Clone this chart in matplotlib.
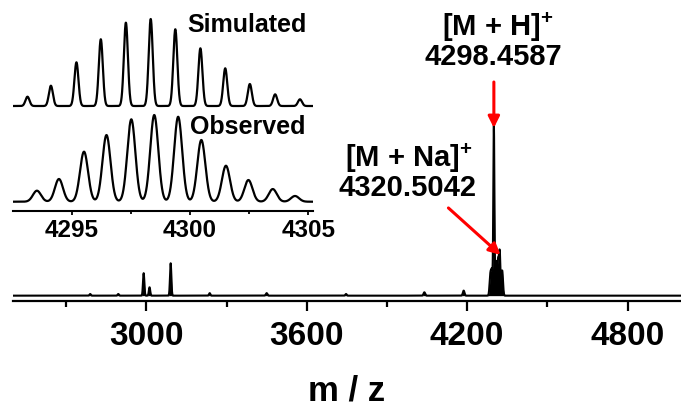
import numpy as np
import matplotlib
matplotlib.use('Agg')
import matplotlib.pyplot as plt

plt.rcParams['font.family'] = ['Liberation Sans', 'DejaVu Sans']
plt.rcParams['font.weight'] = 'bold'
plt.rcParams['mathtext.fontset'] = 'custom'
plt.rcParams['mathtext.rm'] = 'Liberation Sans:bold'
plt.rcParams['mathtext.bf'] = 'Liberation Sans:bold'

# main MALDI spectrum: peak positions (m/z), relative heights (%), widths (m/z)
peak_mz = [2790, 2895, 2990, 3012, 3091, 3237, 3450, 3747, 4040, 4187,
           4287, 4293, 4300, 4308, 4316, 4322, 4331]
peak_int = [1.0, 1.0, 13.4, 5.0, 19.3, 1.5, 1.5, 1.0, 2.0, 3.0,
            12.0, 14.0, 100.0, 20.0, 21.0, 24.0, 15.0]
peak_w = [2.5, 2.5, 2.5, 2.5, 2.5, 2.5, 3.0, 2.5, 3.0, 3.0,
          3.0, 3.0, 2.0, 3.0, 3.0, 2.5, 3.0]

# isotope pattern inset (m/z, % of base peak)
sim_mz = [4293.13, 4294.12, 4295.20, 4296.23, 4297.29, 4298.34,
          4299.38, 4300.44, 4301.49, 4302.53, 4303.60, 4304.65]
sim_int = [10.7, 23.3, 50.2, 76.7, 95.8, 100.0, 88.2, 66.3, 43.3, 25.3, 13.4, 7.7]
obs_mz = [4293.53, 4294.46, 4295.52, 4296.47, 4297.52, 4298.49,
          4299.50, 4300.48, 4301.52, 4302.47, 4303.50, 4304.44]
obs_int = [12.7, 26.2, 57.7, 76.9, 95.0, 100.0, 98.0, 71.2, 41.5, 25.0, 14.6, 6.6]

major_ticks = [3000, 3600, 4200, 4800]
minor_ticks = [2700, 3300, 3900, 4500]


def profile(x, centers, heights, widths):
    y = np.zeros_like(x)
    for c, h, w in zip(centers, heights, widths):
        y += h * np.exp(-0.5 * ((x - c) / w) ** 2)
    return y


fig = plt.figure(figsize=(6.81, 4.09), dpi=100)
ax = fig.add_axes([0.0186, 0.264, 0.9814, 0.736])

mz = np.arange(2500, 5000, 0.25)
inten = profile(mz, peak_mz, peak_int, peak_w)
ax.plot(mz, inten, color='black', lw=1.5)
ax.fill_between(mz, 0, inten, color='black', lw=0)

ax.set_xlim(2500, 5000)
ax.set_ylim(-3.2, 176.3)
for s in ['left', 'right', 'top']:
    ax.spines[s].set_visible(False)
ax.spines['bottom'].set_linewidth(1.6)
ax.set_yticks([])
ax.set_xticks(major_ticks)
ax.set_xticks(minor_ticks, minor=True)
ax.tick_params(axis='x', which='major', length=7.5, width=1.6, labelsize=24, pad=7)
ax.tick_params(axis='x', which='minor', length=4, width=1.6)
ax.set_xlabel('m / z', fontsize=25, fontweight='bold', labelpad=16)

ax.text(4313, 160, r'[M + H]$^{+}$', fontsize=21, ha='center', va='center')
ax.text(4298, 142.3, '4298.4587', fontsize=21, ha='center', va='center')
ax.text(3980, 82, r'[M + Na]$^{+}$', fontsize=21, ha='center', va='center')
ax.text(3976, 64.2, '4320.5042', fontsize=21, ha='center', va='center')

arrow = dict(arrowstyle='-|>', color='red', lw=2.2, mutation_scale=17,
             shrinkA=0, shrinkB=0)
ax.annotate('', xy=(4300, 100), xytext=(4300, 127.4), arrowprops=arrow)
ax.annotate('', xy=(4325, 24.3), xytext=(4130, 52.3), arrowprops=arrow)

# inset: simulated vs observed isotope distribution
ins = fig.add_axes([0.0195, 0.4841, 0.4401, 0.5159])
ins.patch.set_alpha(0)
xi = np.arange(4292.5, 4305.25, 0.005)
obs_y = profile(xi, obs_mz, [v * 0.867 for v in obs_int], [0.17] * len(obs_mz))
sim_y = profile(xi, sim_mz, [v * 0.87 for v in sim_int], [0.085] * len(sim_mz))
ins.plot(xi, obs_y, color='black', lw=1.6)
ins.plot(xi, sim_y + 95.7, color='black', lw=1.6)
ins.set_xlim(4292.53, 4305.2)
ins.set_ylim(-9.3, 201.7)
for s in ['left', 'right', 'top']:
    ins.spines[s].set_visible(False)
ins.spines['bottom'].set_linewidth(1.5)
ins.set_yticks([])
ins.set_xticks([4295, 4300, 4305])
ins.set_xticks([4297.5, 4302.5], minor=True)
ins.tick_params(axis='x', which='major', length=3, width=1.3, labelsize=17.5, pad=3)
ins.tick_params(axis='x', which='minor', length=2, width=1.3)
ins.text(4302.40, 176.7, 'Simulated', fontsize=18, ha='center', va='center')
ins.text(4302.46, 74.7, 'Observed', fontsize=18, ha='center', va='center')

fig.savefig('out.png', dpi=100)
